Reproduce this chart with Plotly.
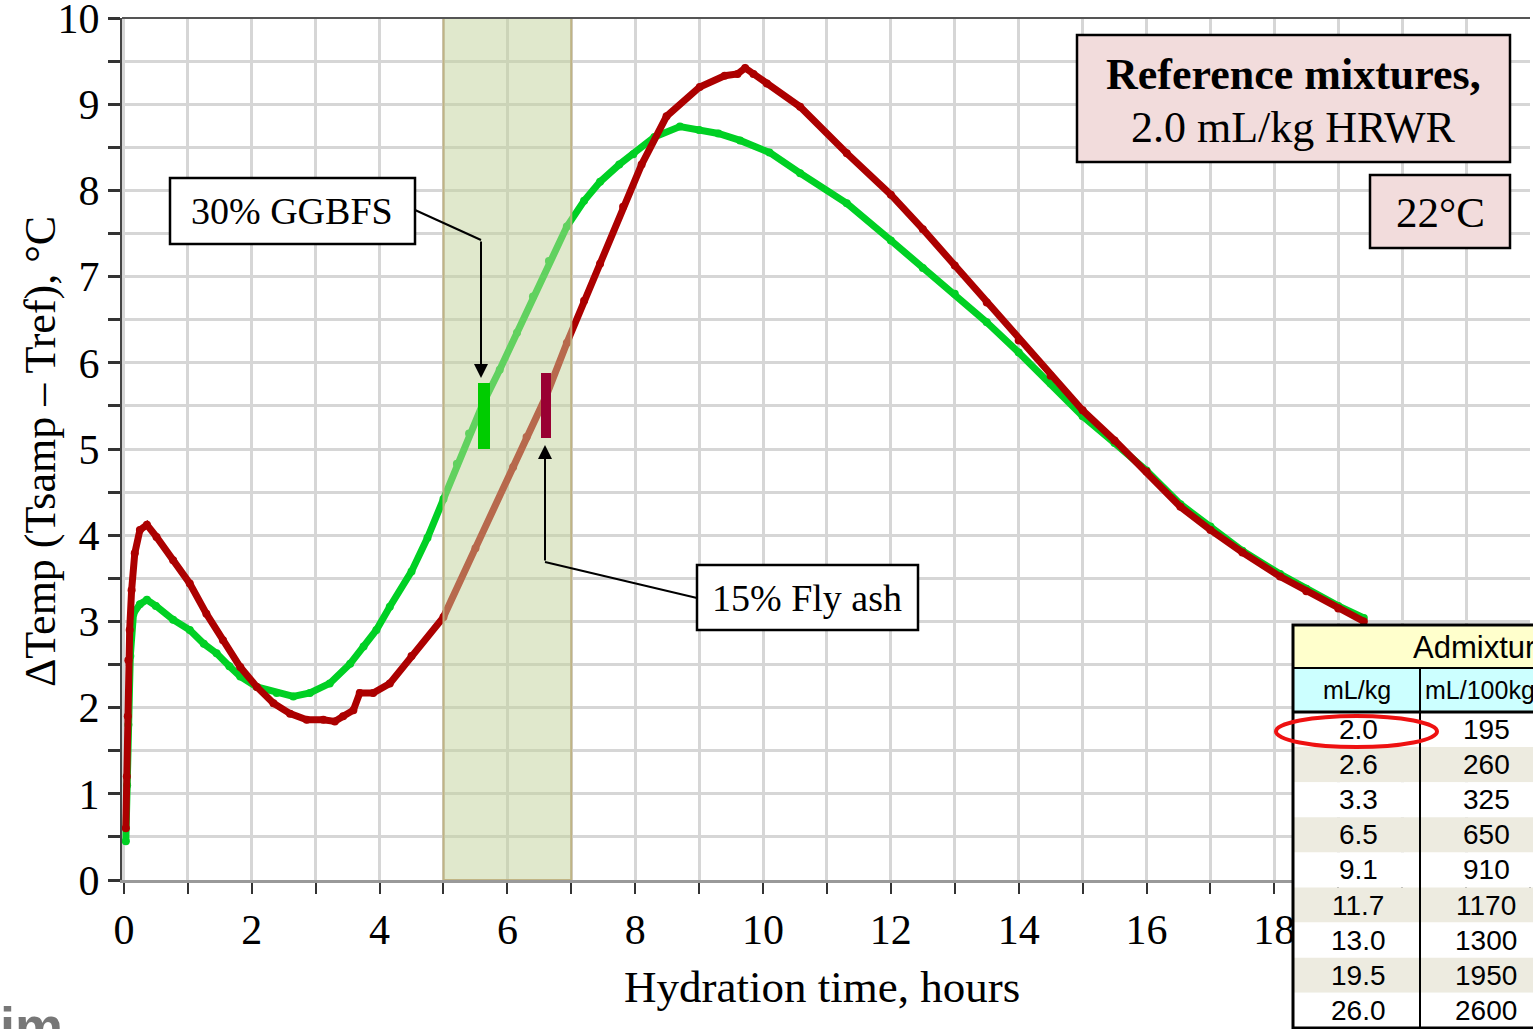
import plotly.graph_objects as go

# ---------------- data ----------------
ggbfs_t = [0.03, 0.05, 0.07, 0.10, 0.15, 0.25, 0.36, 0.50, 0.77, 1.03, 1.25, 1.45,
           1.65, 1.82, 2.08, 2.39, 2.65, 2.91, 3.22, 3.54, 3.75, 3.95, 4.16, 4.5,
           4.75, 5.0, 5.21, 5.4, 5.62, 5.88, 6.15, 6.4, 6.65, 6.93, 7.2, 7.45,
           7.75, 7.97, 8.3, 8.7, 9.0, 9.3, 9.64, 10.1, 10.58, 11.31, 12.0, 12.5,
           13.0, 13.5, 14.0, 14.5, 15.0, 15.5, 16.0, 16.53, 17.0, 17.5, 18.09,
           18.5, 19.0, 19.4]
ggbfs_dT = [0.45, 1.1, 1.8, 2.6, 3.09, 3.2, 3.25, 3.18, 3.02, 2.9, 2.74, 2.63,
            2.48, 2.36, 2.24, 2.17, 2.13, 2.17, 2.28, 2.51, 2.71, 2.9, 3.17, 3.58,
            3.97, 4.42, 4.83, 5.18, 5.53, 5.92, 6.35, 6.77, 7.18, 7.58, 7.88, 8.1,
            8.3, 8.42, 8.62, 8.74, 8.7, 8.66, 8.58, 8.44, 8.2, 7.85, 7.42, 7.1,
            6.8, 6.47, 6.12, 5.76, 5.38, 5.07, 4.75, 4.36, 4.1, 3.82, 3.55,
            3.38, 3.18, 3.04]

flyash_t = [0.03, 0.045, 0.06, 0.07, 0.09, 0.12, 0.17, 0.25, 0.36, 0.51, 0.77,
            1.03, 1.29, 1.55, 1.82, 2.08, 2.34, 2.6, 2.86, 3.12, 3.3, 3.43, 3.59,
            3.69, 3.9, 4.16, 4.5, 5.0, 5.5, 6.09, 6.3, 6.61, 6.93, 7.2, 7.45, 7.81,
            8.1, 8.49, 9.01, 9.4, 9.6, 9.72, 9.85, 10.06, 10.58, 11.31, 12.0, 12.5,
            13.0, 13.5, 14.0, 14.5, 15.0, 15.5, 16.0, 16.53, 17.0, 17.5, 18.09,
            18.5, 19.0, 19.4]
flyash_dT = [0.6, 1.2, 1.9, 2.55, 2.9, 3.36, 3.79, 4.06, 4.12, 3.98, 3.71,
             3.44, 3.09, 2.78, 2.47, 2.24, 2.05, 1.93, 1.86, 1.86, 1.84, 1.9, 1.97,
             2.17, 2.17, 2.28, 2.6, 3.05, 3.85, 4.79, 5.14, 5.62, 6.23, 6.72, 7.15, 7.81,
             8.3, 8.86, 9.2, 9.33, 9.35, 9.42, 9.35, 9.24, 8.97, 8.43, 7.95, 7.55,
             7.13, 6.7, 6.26, 5.85, 5.45, 5.1, 4.74, 4.33, 4.06, 3.8, 3.52,
             3.35, 3.15, 3.0]

x_tick_values = [0, 2, 4, 6, 8, 10, 12, 14, 16, 18]
y_tick_values = [0, 1, 2, 3, 4, 5, 6, 7, 8, 9, 10]

table_title = "Admixture"
table_col_headers = ["mL/kg", "mL/100kg"]
dose_ml_kg = ["2.0", "2.6", "3.3", "6.5", "9.1", "11.7", "13.0", "19.5", "26.0"]
dose_ml_100kg = ["195", "260", "325", "650", "910", "1170", "1300", "1950", "2600"]

# ---------------- geometry helpers ----------------
W, H = 1533, 1029
L, R, T, B = 122, 1530, 18, 880
X0, X1 = -0.03, 22.0
Y0, Y1 = 0.0, 10.0


def dx(px):
    return X0 + (px - L) / (R - L) * (X1 - X0)


def dy(py):
    return Y0 + (B - py) / (B - T) * (Y1 - Y0)


def pxp(px):
    return (px - L) / (R - L)


def pyp(py):
    return (B - py) / (B - T)


SERIF = "Liberation Serif, Times New Roman, serif"
SANS = "Liberation Sans, Arial, sans-serif"

GREEN = "rgb(0,208,36)"
RED = "rgb(172,0,0)"

fig = go.Figure()
fig.add_trace(go.Scatter(x=ggbfs_t, y=ggbfs_dT, mode="lines+markers",
                         line=dict(color=GREEN, width=7),
                         marker=dict(color=GREEN, size=8),
                         name="30% GGBFS", showlegend=False))
fig.add_trace(go.Scatter(x=flyash_t, y=flyash_dT, mode="lines+markers",
                         line=dict(color=RED, width=7),
                         marker=dict(color=RED, size=8),
                         name="15% Fly ash", showlegend=False))

shapes = []
# translucent band 5-7 h (drawn over the curves)
shapes.append(dict(type="rect", xref="x", yref="y", x0=5, x1=7, y0=0, y1=10,
                   layer="above", fillcolor="rgba(194,210,153,0.5)",
                   line=dict(color="rgba(190,175,125,0.9)", width=2)))
# set-time marker bars
shapes.append(dict(type="rect", xref="x", yref="y", x0=dx(478), x1=dx(490),
                   y0=dy(449), y1=dy(383), layer="above", fillcolor="#00cc00",
                   line=dict(width=0)))
shapes.append(dict(type="rect", xref="x", yref="y", x0=dx(541), x1=dx(551),
                   y0=dy(438), y1=dy(373), layer="above", fillcolor="#990033",
                   line=dict(width=0)))
# leader lines
shapes.append(dict(type="line", xref="x", yref="y", x0=dx(415), y0=dy(210),
                   x1=dx(481), y1=dy(240), layer="above",
                   line=dict(color="black", width=2)))
shapes.append(dict(type="line", xref="x", yref="y", x0=dx(697), y0=dy(598),
                   x1=dx(545), y1=dy(562), layer="above",
                   line=dict(color="black", width=2)))
# label boxes
shapes.append(dict(type="rect", xref="x", yref="y", x0=dx(170), x1=dx(415),
                   y0=dy(244), y1=dy(178), layer="above", fillcolor="white",
                   line=dict(color="black", width=2.5)))
shapes.append(dict(type="rect", xref="x", yref="y", x0=dx(697), x1=dx(918),
                   y0=dy(630), y1=dy(565), layer="above", fillcolor="white",
                   line=dict(color="black", width=2.5)))
shapes.append(dict(type="rect", xref="x", yref="y", x0=dx(1077), x1=dx(1510),
                   y0=dy(162), y1=dy(35), layer="above", fillcolor="#f2dcdc",
                   line=dict(color="black", width=2.5)))
shapes.append(dict(type="rect", xref="x", yref="y", x0=dx(1370), x1=dx(1510),
                   y0=dy(248), y1=dy(175), layer="above", fillcolor="#f2dcdc",
                   line=dict(color="black", width=2.5)))
# top frame line
shapes.append(dict(type="line", xref="paper", yref="paper", x0=0, x1=1, y0=1, y1=1,
                   layer="above", line=dict(color="#555555", width=2)))

# ----- admixture table (partly outside the picture on the right) -----
TX0, TXC, TX1 = 1293, 1420, 1560
row_top = 712
row_h = 35.1
shapes.append(dict(type="rect", xref="paper", yref="paper", x0=pxp(TX0), x1=pxp(TX1),
                   y0=pyp(668), y1=pyp(625), layer="above", fillcolor="#ffffcc",
                   line=dict(width=0)))
shapes.append(dict(type="rect", xref="paper", yref="paper", x0=pxp(TX0), x1=pxp(TX1),
                   y0=pyp(712), y1=pyp(668), layer="above", fillcolor="#ccffff",
                   line=dict(width=0)))
for i in range(len(dose_ml_kg)):
    top = row_top + i * row_h
    shapes.append(dict(type="rect", xref="paper", yref="paper", x0=pxp(TX0), x1=pxp(TX1),
                       y0=pyp(top + row_h), y1=pyp(top), layer="above",
                       fillcolor="#ffffff" if i % 2 == 0 else "#edebe0",
                       line=dict(width=0)))
shapes.append(dict(type="rect", xref="paper", yref="paper", x0=pxp(TX0), x1=pxp(TX1),
                   y0=pyp(1028), y1=pyp(625), layer="above",
                   line=dict(color="black", width=3)))
shapes.append(dict(type="line", xref="paper", yref="paper", x0=pxp(TX0), x1=pxp(TX1),
                   y0=pyp(668), y1=pyp(668), layer="above",
                   line=dict(color="black", width=2)))
shapes.append(dict(type="line", xref="paper", yref="paper", x0=pxp(TX0), x1=pxp(TX1),
                   y0=pyp(712), y1=pyp(712), layer="above",
                   line=dict(color="black", width=3)))
shapes.append(dict(type="line", xref="paper", yref="paper", x0=pxp(TXC), x1=pxp(TXC),
                   y0=pyp(1028), y1=pyp(668), layer="above",
                   line=dict(color="black", width=2)))
# red ellipse around 2.0
shapes.append(dict(type="circle", xref="paper", yref="paper", x0=pxp(1276), x1=pxp(1437),
                   y0=pyp(747), y1=pyp(716), layer="above",
                   line=dict(color="#ee1111", width=4)))

annotations = []


def text_at(xref, yref, x, y, text, family, size, color="black", xanchor="center",
            yanchor="middle", **kw):
    d = dict(xref=xref, yref=yref, x=x, y=y, text=text, showarrow=False,
             xanchor=xanchor, yanchor=yanchor,
             font=dict(family=family, size=size, color=color))
    d.update(kw)
    annotations.append(d)


text_at("x", "y", dx(292), dy(211), "30% GGBFS", SERIF, 38)
text_at("x", "y", dx(807), dy(598), "15% Fly ash", SERIF, 38)
text_at("x", "y", dx(1293), dy(74), "<b>Reference mixtures,</b>", SERIF, 44)
text_at("x", "y", dx(1293), dy(127), "2.0 mL/kg HRWR", SERIF, 44)
text_at("x", "y", dx(1440), dy(212), "22°C", SERIF, 43)
# arrows
annotations.append(dict(xref="x", yref="y", x=dx(481), y=dy(378), ax=0, ay=-138,
                        text="", showarrow=True, arrowhead=2, arrowsize=1.4,
                        arrowwidth=2, arrowcolor="black"))
annotations.append(dict(xref="x", yref="y", x=dx(545), y=dy(445), ax=0, ay=117,
                        text="", showarrow=True, arrowhead=2, arrowsize=1.4,
                        arrowwidth=2, arrowcolor="black"))
# axis titles
text_at("paper", "paper", pxp(822), pyp(987), "Hydration time, hours", SERIF, 45)
text_at("paper", "paper", pxp(40), pyp(452), "ΔTemp (Tsamp – Tref), °C", SERIF, 44,
        textangle=-90)
# table text
text_at("paper", "paper", pxp(1411), pyp(647), table_title, SANS, 31, xanchor="left")
text_at("paper", "paper", pxp(1357), pyp(690), table_col_headers[0], SANS, 25)
text_at("paper", "paper", pxp(1423), pyp(690), table_col_headers[1], SANS, 25,
        xanchor="left")
for i, (a, b) in enumerate(zip(dose_ml_kg, dose_ml_100kg)):
    cy = row_top + i * row_h + row_h / 2
    text_at("paper", "paper", pxp(1358), pyp(cy), a, SANS, 28)
    text_at("paper", "paper", pxp(1486), pyp(cy), b, SANS, 28)
# cut-off watermark fragment at bottom-left
text_at("paper", "paper", pxp(-2), pyp(994), "<b>im</b>", SANS, 54, color="#777777",
        xanchor="left", yanchor="top")

fig.update_layout(
    width=W, height=H,
    margin=dict(l=L, r=W - R, t=T, b=H - B, pad=0, autoexpand=False),
    paper_bgcolor="white", plot_bgcolor="white",
    showlegend=False,
    shapes=shapes, annotations=annotations,
    xaxis=dict(range=[X0, X1], tickmode="array", tickvals=x_tick_values,
               ticktext=[str(v) for v in x_tick_values], automargin=False,
               ticks="outside", ticklen=11, tickwidth=2, tickcolor="#333333",
               showgrid=True, gridcolor="#d6d6d6", gridwidth=3,
               minor=dict(dtick=1, tick0=0, ticks="outside", ticklen=11, tickwidth=2,
                          tickcolor="#333333", showgrid=True, gridcolor="#d6d6d6",
                          gridwidth=3),
               showline=True, linecolor="#999999", linewidth=3, zeroline=False,
               ticklabeloverflow="allow",
               tickfont=dict(family=SERIF, size=42, color="black")),
    yaxis=dict(range=[Y0, Y1], tickmode="array", tickvals=y_tick_values,
               ticktext=[str(v) for v in y_tick_values], automargin=False,
               ticks="outside", ticklen=12, tickwidth=3, tickcolor="#333333",
               showgrid=True, gridcolor="#d6d6d6", gridwidth=3,
               minor=dict(dtick=0.5, tick0=0, ticks="outside", ticklen=12, tickwidth=3,
                          tickcolor="#333333", showgrid=True, gridcolor="#d6d6d6",
                          gridwidth=3),
               showline=True, linecolor="#444444", linewidth=2, zeroline=False,
               ticklabeloverflow="allow",
               tickfont=dict(family=SERIF, size=42, color="black")),
)

fig.write_html("out.html")
